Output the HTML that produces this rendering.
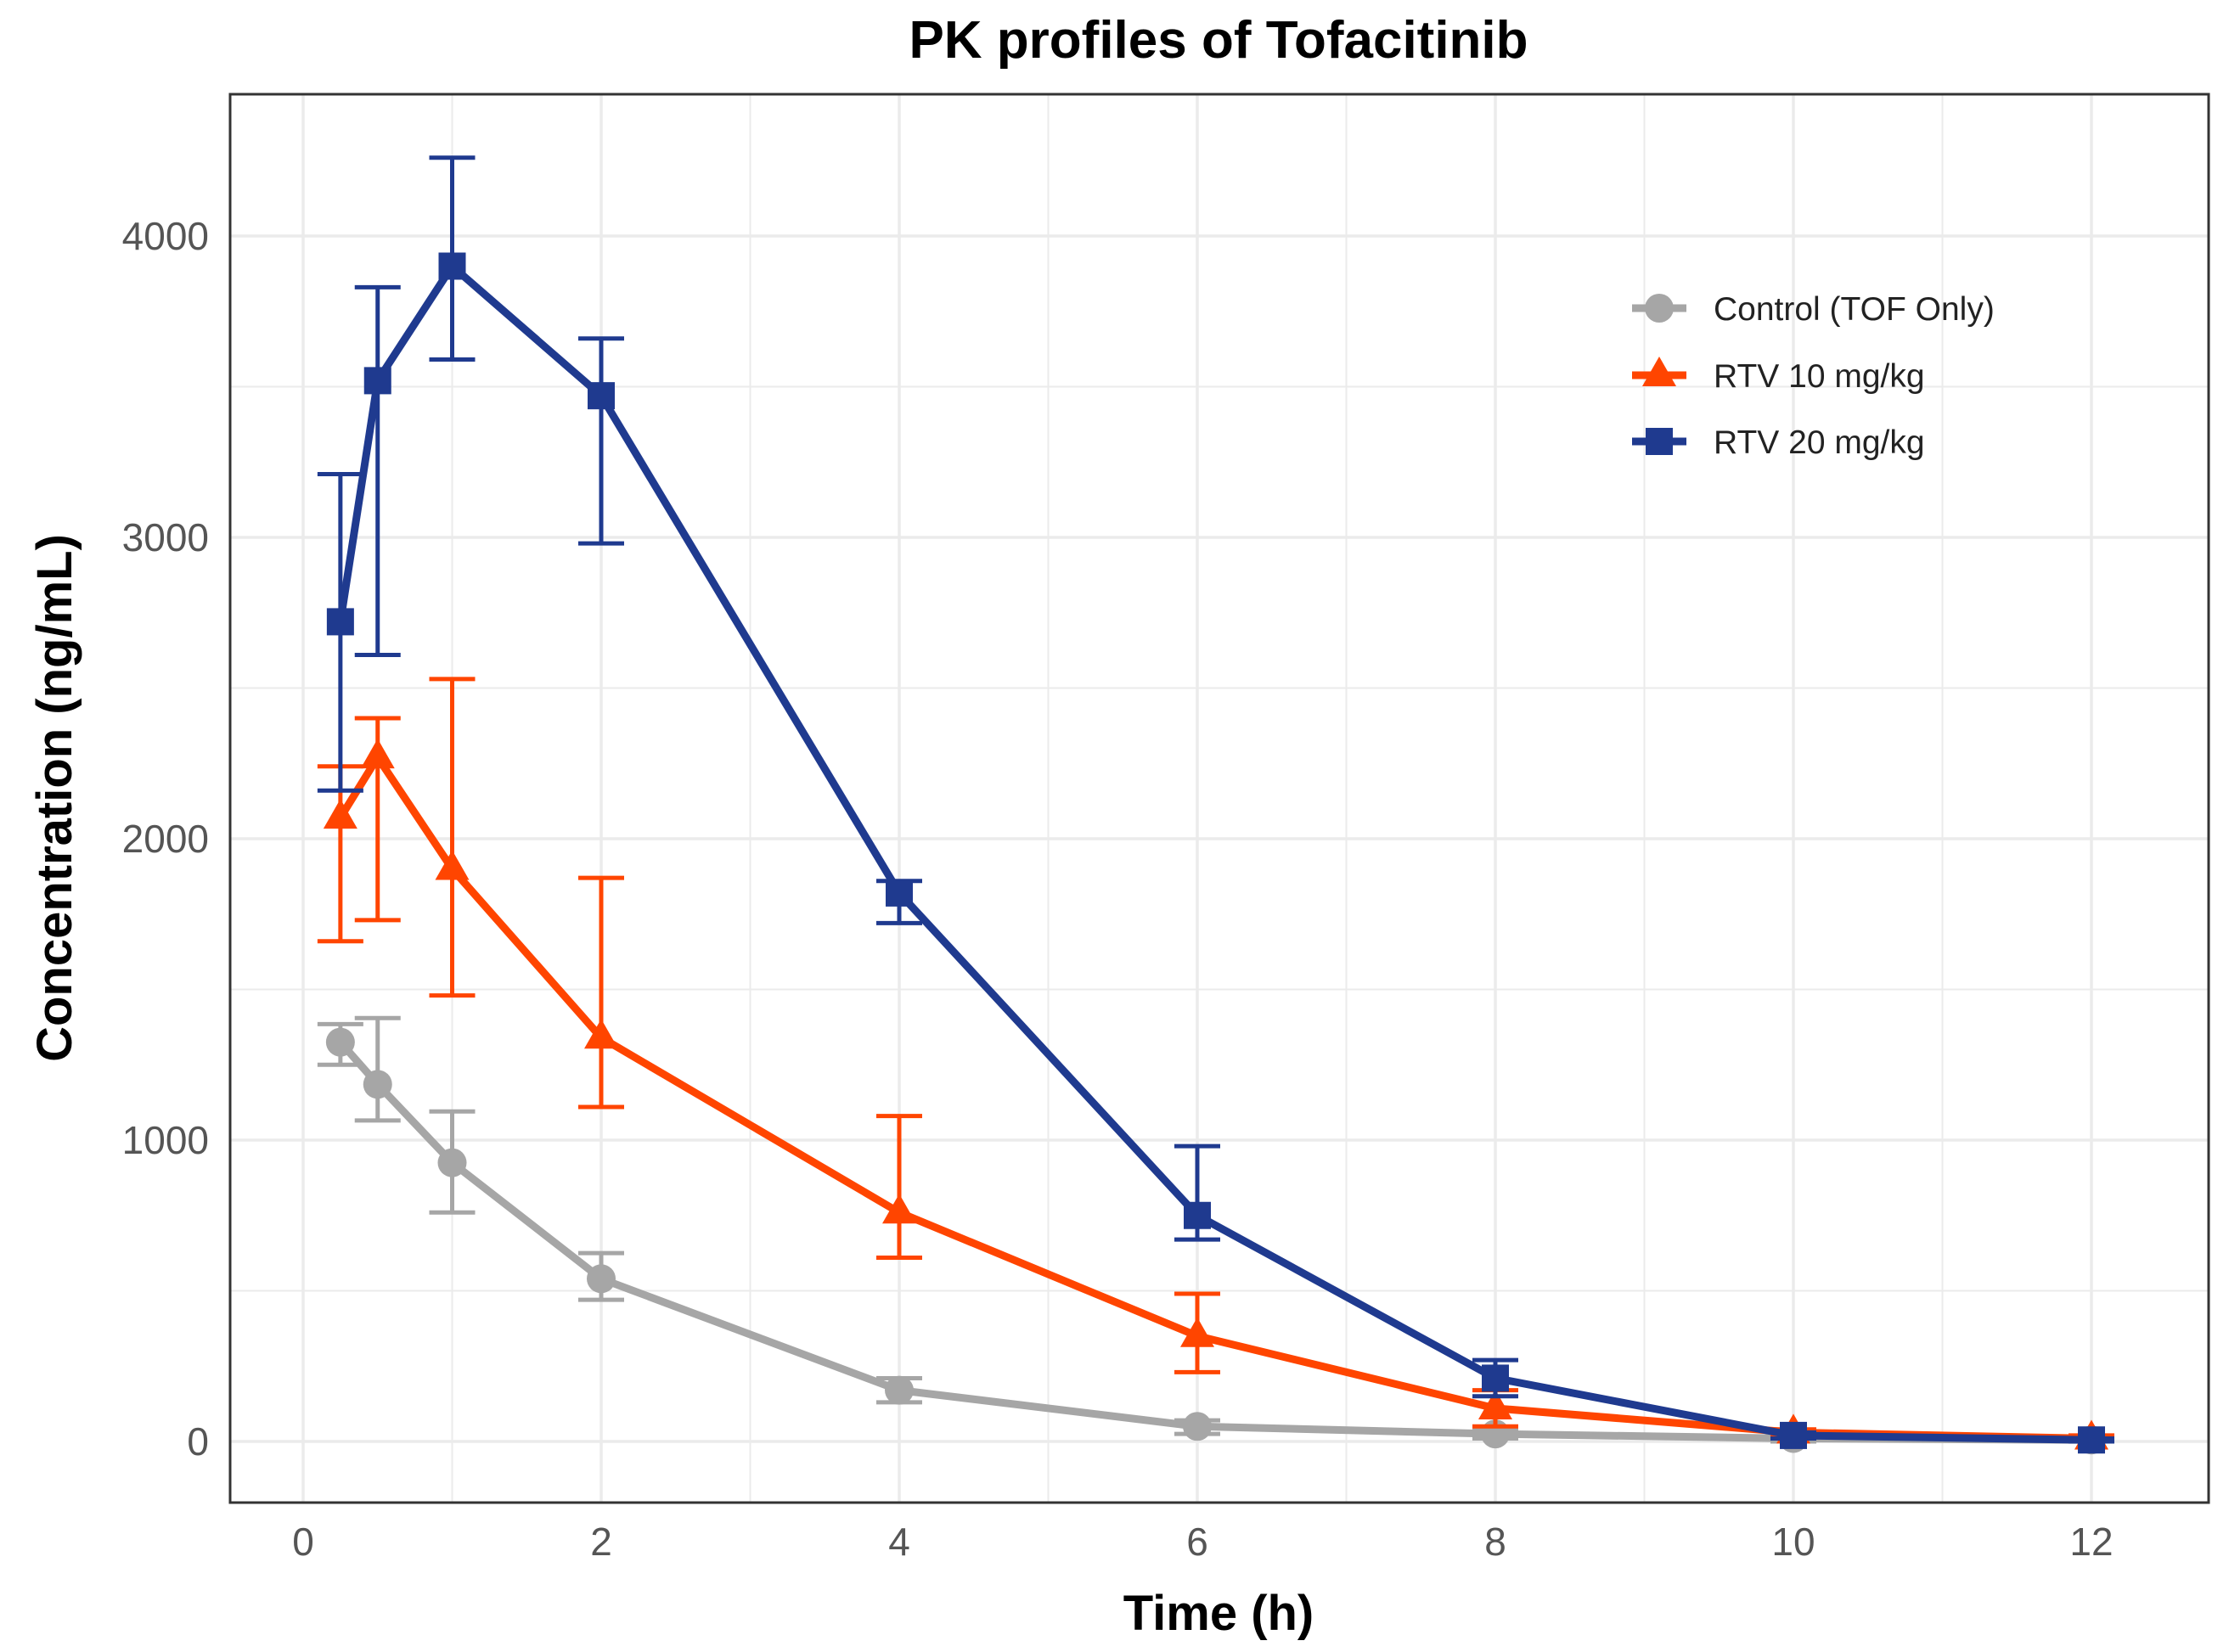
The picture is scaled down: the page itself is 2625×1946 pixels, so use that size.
<!DOCTYPE html>
<html><head><meta charset="utf-8"><style>
html,body{margin:0;padding:0;background:#fff}
svg{display:block}
text{font-family:"Liberation Sans",Arial,sans-serif}
</style></head><body>
<svg id="chart" width="2625" height="1946" viewBox="0 0 2625 1946" xmlns="http://www.w3.org/2000/svg">
<rect width="2625" height="1946" fill="#fff"/>
<text x="1435" y="68" text-anchor="middle" font-size="62" font-weight="bold" fill="#000">PK profiles of Tofacitinib</text>
<g id="grid"></g>
<g id="series"></g>
<rect x="271" y="111" width="2330" height="1659" fill="none" stroke="#333" stroke-width="3"/>
<g id="ticks"></g>
<text x="1435" y="1920" text-anchor="middle" font-size="58" font-weight="bold" fill="#000">Time (h)</text>
<text transform="translate(84,940) rotate(-90)" text-anchor="middle" font-size="58" font-weight="bold" fill="#000">Concentration (ng/mL)</text>
<g id="legend"></g>
</svg>
<script>
const times = [0.25, 0.5, 1, 2, 4, 6, 8, 10, 12];
const controlMean = [1325, 1185, 925, 540, 170, 50, 25, 10, 5];
const controlLow  = [1250, 1065, 760, 470, 130, 25, 10, 0, 0];
const controlHigh = [1385, 1405, 1095, 625, 210, 70, 40, 20, 10];
const rtv10Mean = [2070, 2270, 1900, 1340, 760, 350, 110, 30, 10];
const rtv10Low  = [1660, 1730, 1480, 1110, 610, 230, 50, 20, 0];
const rtv10High = [2240, 2400, 2530, 1870, 1080, 490, 170, 40, 20];
const rtv20Mean = [2720, 3520, 3900, 3470, 1820, 750, 210, 20, 5];
const rtv20Low  = [2160, 2610, 3590, 2980, 1720, 670, 150, 10, 0];
const rtv20High = [3210, 3830, 4260, 3660, 1860, 980, 270, 30, 10];
const xTicks = [0, 2, 4, 6, 8, 10, 12];
const yTicks = [0, 1000, 2000, 3000, 4000];
const seriesNames = ["Control (TOF Only)", "RTV 10 mg/kg", "RTV 20 mg/kg"];

const NS = "http://www.w3.org/2000/svg";
const X = t => 357 + t * 175.5;
const Y = v => 1698 - v * 0.355;
function mk(tag, attrs, parent) {
  const e = document.createElementNS(NS, tag);
  for (const k in attrs) e.setAttribute(k, attrs[k]);
  parent.appendChild(e);
  return e;
}
const grid = document.getElementById('grid');
for (let t = 0; t <= 13; t++) {
  const l = mk('line', {x1: X(t), x2: X(t), y1: 111, y2: 1770, stroke: '#ebebeb', 'stroke-width': t % 2 === 0 ? 3.5 : 2}, grid);
  
  
}
for (let v = -500; v <= 4500; v += 500) {
  if (Y(v) < 111 || Y(v) > 1770) continue;
  const l = mk('line', {x1: 271, x2: 2601, y1: Y(v), y2: Y(v), stroke: '#ebebeb', 'stroke-width': v % 1000 === 0 ? 3.5 : 2}, grid);
  
  
}
const ticks = document.getElementById('ticks');
xTicks.forEach(t => {
  const tx = mk('text', {x: X(t), y: 1832, 'text-anchor': 'middle', 'font-size': 46, fill: '#555'}, ticks);
  tx.textContent = t;
  
  
});
yTicks.forEach(v => {
  const tx = mk('text', {x: 246, y: Y(v) + 16, 'text-anchor': 'end', 'font-size': 46, fill: '#555'}, ticks);
  tx.textContent = v;
  
  
});
function marker(shape, cx, cy, color, parent) {
  let m;
  if (shape === 'circle') m = mk('circle', {cx: cx, cy: cy, r: 17, fill: color}, parent);
  else if (shape === 'square') m = mk('rect', {x: cx - 16, y: cy - 16, width: 32, height: 32, fill: color}, parent);
  else m = mk('polygon', {points: `${cx},${cy - 22} ${cx + 20},${cy + 13} ${cx - 20},${cy + 13}`, fill: color}, parent);
  return m;
}
const seriesG = document.getElementById('series');
const defs = [
  {mean: controlMean, low: controlLow, high: controlHigh, color: '#a6a6a6', shape: 'circle', key: 'control'},
  {mean: rtv10Mean, low: rtv10Low, high: rtv10High, color: '#ff4500', shape: 'triangle', key: 'rtv10'},
  {mean: rtv20Mean, low: rtv20Low, high: rtv20High, color: '#1f3a8f', shape: 'square', key: 'rtv20'}
];
defs.forEach(s => {
  const g = mk('g', {}, seriesG);
  
  
  times.forEach((t, i) => {
    const eb = mk('path', {d: `M${X(t)-27},${Y(s.high[i])}H${X(t)+27}M${X(t)},${Y(s.high[i])}V${Y(s.low[i])}M${X(t)-27},${Y(s.low[i])}H${X(t)+27}`, stroke: s.color, 'stroke-width': 5, fill: 'none'}, g);
    
    
  });
  const line = mk('polyline', {points: times.map((t, i) => X(t) + ',' + Y(s.mean[i])).join(' '), stroke: s.color, 'stroke-width': 9, fill: 'none', 'stroke-linejoin': 'round'}, g);
  
  
  times.forEach((t, i) => {
    const m = marker(s.shape, X(t), Y(s.mean[i]), s.color, g);
    
    
  });
});
const legend = document.getElementById('legend');
const legY = [363, 442, 520];
defs.forEach((s, i) => {
  const g = mk('g', {}, legend);
  
  
  mk('line', {x1: 1922, x2: 1986, y1: legY[i], y2: legY[i], stroke: s.color, 'stroke-width': 9}, g);
  marker(s.shape, 1954, legY[i], s.color, g);
  const tx = mk('text', {x: 2018, y: legY[i] + 14, 'font-size': 39, fill: '#222'}, g);
  tx.textContent = seriesNames[i];
});
</script>
</body></html>
